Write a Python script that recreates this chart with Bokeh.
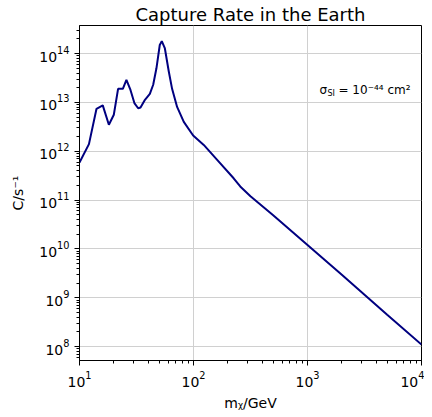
from bokeh.plotting import figure
from bokeh.models import Label, ColumnDataSource
from bokeh.embed import file_html
from bokeh.resources import INLINE

mass = [10.0, 12.1, 14.1, 16.0, 18.1, 20.0, 21.8, 24.0, 25.8, 28.0, 30.3, 32.7, 34.3,
        37.2, 41.4, 44.3, 47.3, 50.6, 52.7, 56.0, 60.7, 64.9, 71.8, 82.2, 99.3,
        123.0, 162.0, 225.0, 257.0, 316.0, 500.0, 1000.0, 2000.0, 5000.0, 10000.0]
rate = [5.9e11, 1.4e12, 7.4e12, 8.7e12, 3.5e12, 5.6e12, 1.9e13, 1.9e13, 2.9e13, 1.8e13,
        9.7e12, 7.6e12, 7.9e12, 1.1e13, 1.5e13, 2.3e13, 5.0e13, 1.5e14, 1.8e14, 1.3e14,
        4.3e13, 1.9e13, 8.1e12, 4.0e12, 2.1e12, 1.35e12, 6.6e11, 2.8e11, 1.9e11, 1.2e11,
        4.9e10, 1.2e10, 2.95e9, 4.5e8, 1.1e8]

FONT = "DejaVu Sans"

p = figure(width=424, height=413, x_axis_type="log", y_axis_type="log",
           x_range=(10, 1e4), y_range=(5.2e7, 3.76e14),
           output_backend="svg", toolbar_location=None,
           title="Capture Rate in the Earth",
           min_border_left=79, min_border_right=3, min_border_top=20, min_border_bottom=47)

p.title.align = "center"
p.title.text_font = FONT
p.title.text_font_size = "18px"
p.title.text_font_style = "normal"
p.title.text_color = "black"
p.title.standoff = 2

src = ColumnDataSource(dict(m=mass, c=rate))
p.line("m", "c", source=src, line_color="#000080", line_width=2)

for ax in (p.xaxis, p.yaxis):
    ax.axis_label_text_font = FONT
    ax.axis_label_text_font_size = "14px"
    ax.axis_label_text_font_style = "normal"
    ax.axis_label_text_color = "black"
    ax.major_label_text_font = FONT
    ax.major_label_text_font_size = "14px"
    ax.major_label_text_color = "black"
    ax.axis_line_color = "black"
    ax.major_tick_line_color = "black"
    ax.minor_tick_line_color = "black"
    ax.major_tick_out = 5
    ax.major_tick_in = 0
    ax.minor_tick_out = 3
    ax.minor_tick_in = 0

p.xaxis.axis_label = "mᵪ/GeV"
p.yaxis.axis_label = "C/s⁻¹"
p.yaxis.axis_label_standoff = 10

p.xgrid.grid_line_color = "#d0d0d0"
p.ygrid.grid_line_color = "#d0d0d0"
p.outline_line_color = "black"
p.outline_line_width = 1

p.add_layout(Label(x=1274, y=1.8e13, text="σ", text_font=FONT, text_font_size="12px",
                   text_baseline="middle", text_color="black"))
p.add_layout(Label(x=1274, y=1.8e13, x_offset=8, y_offset=-4, text="SI", text_font=FONT,
                   text_font_size="8px", text_baseline="middle", text_color="black"))
p.add_layout(Label(x=1274, y=1.8e13, x_offset=19, text="= 10⁻⁴⁴ cm²", text_font=FONT,
                   text_font_size="12px", text_baseline="middle", text_color="black"))

open("out.html", "w").write(file_html(p, INLINE))
